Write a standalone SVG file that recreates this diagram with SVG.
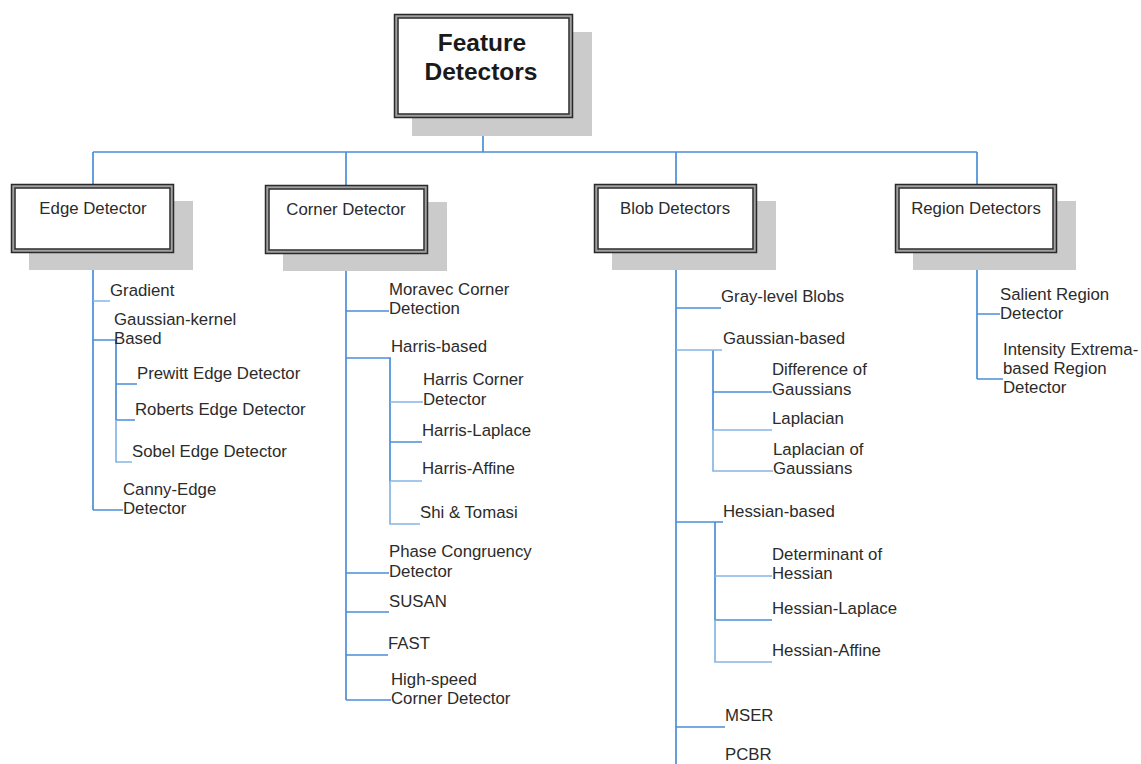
<svg xmlns="http://www.w3.org/2000/svg" width="1141" height="764" viewBox="0 0 1141 764">
<style>
.sh{fill:#cbcbcb}
.bx{fill:#fff;stroke:#a0a0a0;stroke-width:3.5}
.bo{fill:none;stroke:#2a2a2a;stroke-width:1.5}
.t{font-family:"Liberation Sans",Arial,sans-serif;font-size:16.8px;fill:#2b2b2b}
.tt{font-family:"Liberation Sans",Arial,sans-serif;font-size:24.5px;font-weight:bold;fill:#1a1a1a}
.c{fill:none;stroke:#4a8fd6;stroke-width:1.7}
.cl{fill:none;stroke:#86b6e6;stroke-width:1.7}
</style>
<rect width="1141" height="764" fill="#fff"/>
<g id="connectors">
<path class="c" d="M483,118V152M93,152H977M93,152V184M346,152V185M676,152V184M977,152V184"/>
<path class="c" d="M93,253V510M93,340H116M116,340V420M93,510H123M116,384H137M116,420H135"/>
<path class="cl" d="M93,301H110M116,420V462H132"/>
<path class="c" d="M346,253V700M346,311H389M346,358H391M390,358V481M390,442H422M346,573H389M346,612H389M346,655H388M346,700H391"/>
<path class="cl" d="M390,402H423M390,481H422M390,481V524H420"/>
<path class="c" d="M676,253V764M676,308H721M713,350V430M713,392H772M676,522H723M715,522V620M715,620H772M676,727H725"/>
<path class="cl" d="M676,350H722M713,430H772M713,430V471H773M715,576H772M715,620V662H772"/>
<path class="c" d="M977,253V379M977,314H1000M977,379H1003"/>
</g>
<g id="root">
<rect class="sh" x="412" y="32" width="180" height="104"/>
<rect class="bx" x="396" y="16" width="175" height="100"/>
<rect class="bo" x="394.5" y="14.5" width="178" height="103"/>
<rect class="bo" x="398" y="18" width="171" height="96"/>
<text class="tt" x="482" y="51" text-anchor="middle">Feature</text>
<text class="tt" x="481" y="80" text-anchor="middle">Detectors</text>
</g>
<g id="edge">
<rect class="sh" x="29" y="201" width="164" height="69"/>
<rect class="bx" x="13" y="186" width="159" height="65"/>
<rect class="bo" x="11.5" y="184.5" width="162" height="68"/>
<rect class="bo" x="15" y="188" width="155" height="61"/>
<text class="t" x="93" y="214" text-anchor="middle">Edge Detector</text>
</g>
<g id="corner">
<rect class="sh" x="283" y="202" width="164" height="69"/>
<rect class="bx" x="267" y="187" width="159" height="65"/>
<rect class="bo" x="265.5" y="185.5" width="162" height="68"/>
<rect class="bo" x="269" y="189" width="155" height="61"/>
<text class="t" x="346" y="215" text-anchor="middle">Corner Detector</text>
</g>
<g id="blob">
<rect class="sh" x="612" y="201" width="164" height="69"/>
<rect class="bx" x="596" y="186" width="159" height="65"/>
<rect class="bo" x="594.5" y="184.5" width="162" height="68"/>
<rect class="bo" x="598" y="188" width="155" height="61"/>
<text class="t" x="675" y="214" text-anchor="middle">Blob Detectors</text>
</g>
<g id="region">
<rect class="sh" x="913" y="201" width="163" height="69"/>
<rect class="bx" x="897" y="186" width="158" height="65"/>
<rect class="bo" x="895.5" y="184.5" width="161" height="68"/>
<rect class="bo" x="899" y="188" width="154" height="61"/>
<text class="t" x="976" y="214" text-anchor="middle">Region Detectors</text>
</g>
<g id="edge-items">
<text class="t" x="110" y="296">Gradient</text>
<text class="t" x="114" y="325">Gaussian-kernel</text>
<text class="t" x="114" y="344">Based</text>
<text class="t" x="137" y="379">Prewitt Edge Detector</text>
<text class="t" x="135" y="415">Roberts Edge Detector</text>
<text class="t" x="132" y="457">Sobel Edge Detector</text>
<text class="t" x="123" y="495">Canny-Edge</text>
<text class="t" x="123" y="514">Detector</text>
</g>
<g id="corner-items">
<text class="t" x="389" y="295">Moravec Corner</text>
<text class="t" x="389" y="314">Detection</text>
<text class="t" x="391" y="352">Harris-based</text>
<text class="t" x="423" y="385">Harris Corner</text>
<text class="t" x="423" y="405">Detector</text>
<text class="t" x="422" y="436">Harris-Laplace</text>
<text class="t" x="422" y="474">Harris-Affine</text>
<text class="t" x="420" y="518">Shi &amp; Tomasi</text>
<text class="t" x="389" y="557">Phase Congruency</text>
<text class="t" x="389" y="577">Detector</text>
<text class="t" x="389" y="607">SUSAN</text>
<text class="t" x="388" y="649">FAST</text>
<text class="t" x="391" y="685">High-speed</text>
<text class="t" x="391" y="704">Corner Detector</text>
</g>
<g id="blob-items">
<text class="t" x="721" y="302">Gray-level Blobs</text>
<text class="t" x="723" y="344">Gaussian-based</text>
<text class="t" x="772" y="375">Difference of</text>
<text class="t" x="772" y="395">Gaussians</text>
<text class="t" x="772" y="424">Laplacian</text>
<text class="t" x="773" y="455">Laplacian of</text>
<text class="t" x="773" y="474">Gaussians</text>
<text class="t" x="723" y="517">Hessian-based</text>
<text class="t" x="772" y="560">Determinant of</text>
<text class="t" x="772" y="579">Hessian</text>
<text class="t" x="772" y="614">Hessian-Laplace</text>
<text class="t" x="772" y="656">Hessian-Affine</text>
<text class="t" x="725" y="721">MSER</text>
<text class="t" x="725" y="760">PCBR</text>
</g>
<g id="region-items">
<text class="t" x="1000" y="300">Salient Region</text>
<text class="t" x="1000" y="319">Detector</text>
<text class="t" x="1003" y="355">Intensity Extrema-</text>
<text class="t" x="1003" y="374">based Region</text>
<text class="t" x="1003" y="393">Detector</text>
</g>
</svg>
